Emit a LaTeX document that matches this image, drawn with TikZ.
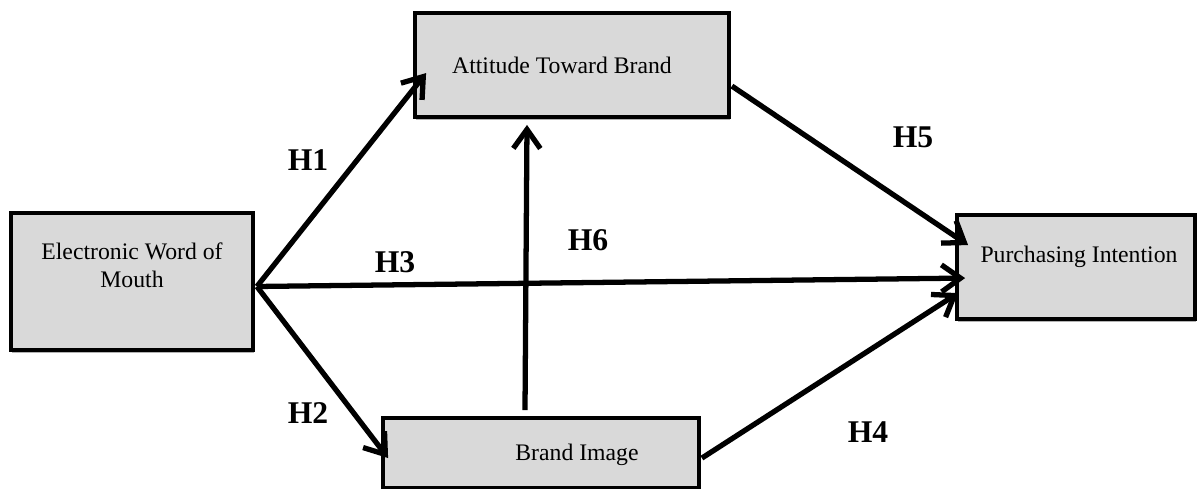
\documentclass[tikz,border=0pt]{standalone}
\usepackage{fontspec}
\setmainfont{Liberation Serif}
\usetikzlibrary{arrows.meta,shadows}
\definecolor{boxgray}{RGB}{217,217,217}
\tikzset{
    construct/.style={draw=black, line width=2.2pt, fill=boxgray, rectangle, inner sep=0pt,
        drop shadow={shadow xshift=0.6pt, shadow yshift=-1.8pt, fill=gray!60, opacity=1}},
    boxtext/.style={text=black, font=\fontsize{13.5}{16}\selectfont, align=center},
    path/.style={line width=3pt, -{Straight Barb[length=0.38cm,width=0.54cm]}},
    hyp/.style={text=black, font=\fontsize{18}{20}\selectfont\bfseries}
}
\begin{document}
\begin{tikzpicture}[x=0.02cm, y=-0.02cm]
    \useasboundingbox (0, 0) rectangle (1198, 489);

    \node[construct, minimum width=4.84cm, minimum height=2.74cm] (ewom) at (132, 281.5) {};
    \node[construct, minimum width=6.28cm, minimum height=2.08cm] (atb) at (572, 65) {};
    \node[construct, minimum width=6.32cm, minimum height=1.40cm] (bi) at (541, 453) {};
    \node[construct, minimum width=4.76cm, minimum height=2.08cm] (pi) at (1076, 267) {};

    \node[boxtext] (ewomtext) at (132, 265) {Electronic Word of\\Mouth};
    \node[boxtext] (atbtext) at (562, 65) {Attitude Toward Brand};
    \node[boxtext] (bitext) at (577, 455) {Brand Image};
    \node[boxtext] (pitext) at (1079, 257) {Purchasing Intention};

    \coordinate (apex) at ([shift={(2, 5)}]ewom.east);

    \draw[path] (apex) -- ([shift={(13, 62)}]atb.north west);
    \draw[path] (apex) -- ([shift={(7, 42)}]bi.north west);
    \draw[path] (apex) -- ([shift={(10, 65)}]pi.north west);
    \draw[path] ([shift={(1, 42)}]bi.north east) -- ([shift={(3, 80)}]pi.north west);
    \draw[path] ([shift={(1, 75)}]atb.north east) -- ([shift={(13, 32)}]pi.north west);
    \draw[path] ([shift={(-16, -6)}]bi.north) -- ([shift={(-45, 6)}]atb.south);

    \node[hyp] (h1) at (308, 160) {H1};
    \node[hyp] (h2) at (308, 413) {H2};
    \node[hyp] (h3) at (395, 262) {H3};
    \node[hyp] (h4) at (868, 432) {H4};
    \node[hyp] (h5) at (913, 137) {H5};
    \node[hyp] (h6) at (588, 240) {H6};

\end{tikzpicture}
\end{document}
